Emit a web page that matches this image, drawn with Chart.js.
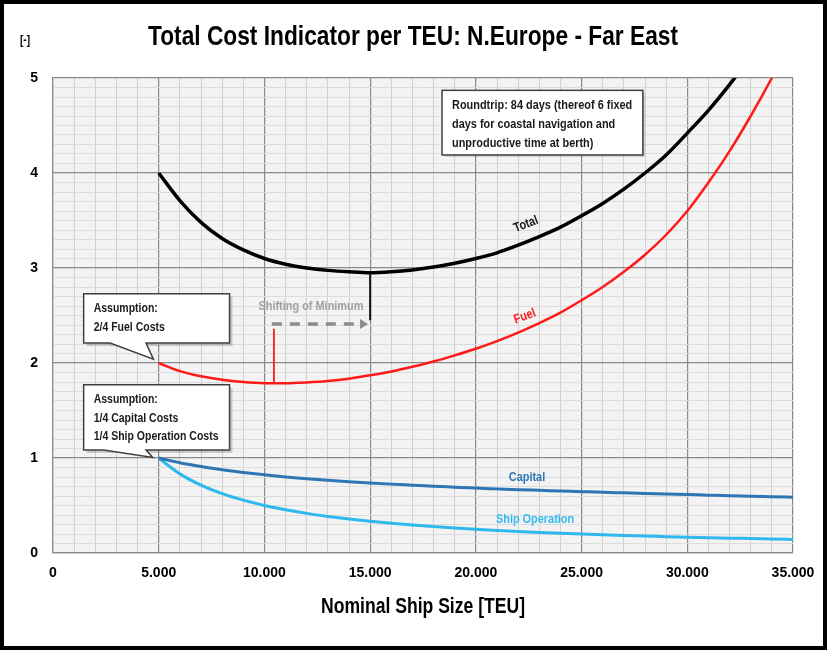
<!DOCTYPE html>
<html>
<head>
<meta charset="utf-8">
<script src="https://cdn.jsdelivr.net/npm/chart.js@4.4.1/dist/chart.umd.min.js"></script>
<style>
  html, body { margin: 0; padding: 0; background: #fff; }
  #wrap { width: 827px; height: 650px; position: relative; }
</style>
</head>
<body>
<div id="wrap"><canvas id="costChart" width="827" height="650"></canvas></div>
<script>
// ship sizes in TEU
var sizes = [5000, 6000, 7000, 8000, 9000, 10000, 11000, 12000, 13000, 14000, 15000,
  16000, 17000, 18000, 19000, 20000, 21000, 22000, 23000, 24000, 25000,
  26000, 27000, 28000, 29000, 30000, 31000, 32000, 33000, 34000, 35000];

var totalCost = [4.00, 3.71, 3.48, 3.31, 3.19, 3.10, 3.04, 3.00, 2.975, 2.96, 2.95,
  2.96, 2.98, 3.01, 3.05, 3.10, 3.16, 3.24, 3.33, 3.43, 3.55,
  3.68, 3.83, 4.00, 4.19, 4.42, 4.66, 4.93, 5.23, null, null];

var fuelCost = [2.00, 1.915, 1.86, 1.823, 1.80, 1.788, 1.787, 1.795, 1.81, 1.835, 1.87,
  1.91, 1.96, 2.015, 2.08, 2.15, 2.23, 2.32, 2.42, 2.53, 2.66,
  2.80, 2.96, 3.14, 3.35, 3.60, 3.90, 4.23, 4.60, 5.00, 5.43];

var capitalCost = [1.00, 0.95, 0.91, 0.877, 0.848, 0.823, 0.801, 0.782, 0.765, 0.75, 0.737,
  0.725, 0.714, 0.703, 0.693, 0.683, 0.675, 0.667, 0.66, 0.653, 0.646,
  0.639, 0.633, 0.627, 0.621, 0.615, 0.609, 0.603, 0.598, 0.592, 0.587];

var shipOpCost = [1.00, 0.833, 0.714, 0.625, 0.556, 0.50, 0.455, 0.417, 0.385, 0.357, 0.333,
  0.313, 0.294, 0.278, 0.263, 0.25, 0.238, 0.227, 0.217, 0.208, 0.20,
  0.192, 0.185, 0.179, 0.172, 0.167, 0.161, 0.156, 0.152, 0.147, 0.143];

var xTickLabels = ['0', '5.000', '10.000', '15.000', '20.000', '25.000', '30.000', '35.000'];

var chartTitle = 'Total Cost Indicator per TEU: N.Europe - Far East';
var yUnit = '[-]';
var xTitle = 'Nominal Ship Size [TEU]';
var noteText = ['Roundtrip: 84 days (thereof 6 fixed', 'days for coastal navigation and', 'unproductive time at berth)'];
var fuelNote = ['Assumption:', '2/4 Fuel Costs'];
var capNote = ['Assumption:', '1/4 Capital Costs', '1/4 Ship Operation Costs'];

var SANS = "'Liberation Sans', Arial, sans-serif";
var SQUEEZE = 0.84; // arial is wider than the calibri look of the original

function series(values) {
  return sizes.map(function(s, i) { return { x: s, y: values[i] }; });
}

function isMajorX(v) { return Math.abs(v % 5000) < 1e-6; }
function isMajorY(v) { return Math.abs(v - Math.round(v)) < 1e-6; }

// bold text, squeezed horizontally; if width is given the text is fitted to it
function txt(ctx, text, x, y, size, color, align, width, angle) {
  ctx.save();
  ctx.font = 'bold ' + size + 'px ' + SANS;
  var sx = SQUEEZE;
  if (width) sx = width / ctx.measureText(text).width;
  ctx.translate(x, y);
  if (angle) ctx.rotate(angle * Math.PI / 180);
  ctx.scale(sx, 1);
  ctx.fillStyle = color;
  ctx.textAlign = align || 'left';
  ctx.textBaseline = 'middle';
  ctx.fillText(text, 0, 0);
  ctx.restore();
}

var chromePlugin = {
  id: 'chrome',
  beforeDraw: function(chart) {
    var ctx = chart.ctx, a = chart.chartArea;
    ctx.save();
    ctx.fillStyle = '#fff';
    ctx.fillRect(0, 0, chart.width, chart.height);
    ctx.fillStyle = '#f3f3f3';
    ctx.fillRect(a.left, a.top, a.right - a.left, a.bottom - a.top);
    ctx.restore();
  },
  afterDraw: function(chart) {
    var ctx = chart.ctx, a = chart.chartArea;
    ctx.save();
    ctx.strokeStyle = '#000';
    ctx.lineWidth = 4;
    ctx.strokeRect(2, 2, chart.width - 4, chart.height - 4);
    ctx.restore();
    txt(ctx, chartTitle, 413, 37, 28, '#000', 'center', 530);
    txt(ctx, yUnit, 25, 41, 12, '#000', 'center');
    txt(ctx, xTitle, (a.left + a.right) / 2, 607, 22, '#000', 'center', 204);
  }
};

function callout(ctx, px, py, box, tail, lines, lineGap) {
  var x1 = px(box[0]), y1 = py(box[1]), x2 = px(box[2]), y2 = py(box[3]);
  var ta = px(tail[0]), tb = px(tail[1]), tx = px(tail[2]), ty = py(tail[3]);
  ctx.save();
  ctx.fillStyle = 'rgba(0,0,0,0.18)';
  ctx.fillRect(x1 + 3, y1 + 3, x2 - x1, y2 - y1);
  ctx.beginPath();
  ctx.moveTo(x1, y1);
  ctx.lineTo(x2, y1);
  ctx.lineTo(x2, y2);
  ctx.lineTo(tb, y2);
  ctx.lineTo(tx, ty);
  ctx.lineTo(ta, y2);
  ctx.lineTo(x1, y2);
  ctx.closePath();
  ctx.fillStyle = '#fff';
  ctx.fill();
  ctx.strokeStyle = '#404040';
  ctx.lineWidth = 1.5;
  ctx.stroke();
  ctx.restore();
  lines.forEach(function(t, i) {
    txt(ctx, t, x1 + 10, y1 + 15 + i * lineGap, 12.5, '#1a1a1a', 'left');
  });
}

var notesPlugin = {
  id: 'notes',
  afterDatasetsDraw: function(chart) {
    var ctx = chart.ctx;
    var xs = chart.scales.x, ys = chart.scales.y;
    var px = function(v) { return xs.getPixelForValue(v); };
    var py = function(v) { return ys.getPixelForValue(v); };

    // minimum markers
    ctx.save();
    ctx.strokeStyle = '#111';
    ctx.lineWidth = 2;
    ctx.beginPath();
    ctx.moveTo(px(15000), py(2.95));
    ctx.lineTo(px(15000), py(2.45));
    ctx.stroke();
    ctx.strokeStyle = '#ff1a1a';
    ctx.lineWidth = 1.8;
    ctx.beginPath();
    ctx.moveTo(px(10450), py(1.787));
    ctx.lineTo(px(10450), py(2.36));
    ctx.stroke();
    // dashed shift arrow
    ctx.strokeStyle = '#8c8c8c';
    ctx.fillStyle = '#8c8c8c';
    ctx.lineWidth = 3.5;
    ctx.setLineDash([10, 8]);
    ctx.beginPath();
    ctx.moveTo(px(10350), py(2.41));
    ctx.lineTo(px(14500), py(2.41));
    ctx.stroke();
    ctx.setLineDash([]);
    var ax = px(14900), ay = py(2.41);
    ctx.beginPath();
    ctx.moveTo(ax, ay);
    ctx.lineTo(ax - 8, ay - 5);
    ctx.lineTo(ax - 8, ay + 5);
    ctx.closePath();
    ctx.fill();
    ctx.restore();
    txt(ctx, 'Shifting of Minimum', px(12200), py(2.59), 12.5, '#a0a0a0', 'center', 105);

    // roundtrip note
    var bx1 = px(18400), by1 = py(4.87), bx2 = px(27900), by2 = py(4.19);
    ctx.save();
    ctx.fillStyle = 'rgba(0,0,0,0.15)';
    ctx.fillRect(bx1 + 2, by1 + 2, bx2 - bx1, by2 - by1);
    ctx.fillStyle = '#fff';
    ctx.fillRect(bx1, by1, bx2 - bx1, by2 - by1);
    ctx.strokeStyle = '#404040';
    ctx.lineWidth = 1.5;
    ctx.strokeRect(bx1, by1, bx2 - bx1, by2 - by1);
    ctx.restore();
    noteText.forEach(function(t, i) {
      txt(ctx, t, bx1 + 10, by1 + 15 + i * 19, 13, '#1a1a1a', 'left');
    });

    callout(ctx, px, py, [1450, 2.73, 8350, 2.21], [2700, 4400, 4750, 2.04], fuelNote, 19);
    callout(ctx, px, py, [1450, 1.77, 8350, 1.085], [2400, 4400, 4720, 1.005], capNote, 18.5);

    txt(ctx, 'Total', px(22370), py(3.46), 13, '#1a1a1a', 'center', 0, -21);
    txt(ctx, 'Fuel', px(22320), py(2.49), 13, '#ff1a1a', 'center', 0, -20);
    txt(ctx, 'Capital', px(22420), py(0.80), 13, '#2e75b6', 'center');
    txt(ctx, 'Ship Operation', px(22800), py(0.35), 13, '#33bbee', 'center');
  }
};

var ctx = document.getElementById('costChart');
var costChart = new Chart(ctx, {
  type: 'line',
  data: {
    datasets: [
      { label: 'Total', data: series(totalCost), borderColor: '#000', borderWidth: 3.5 },
      { label: 'Fuel', data: series(fuelCost), borderColor: '#ff1a1a', borderWidth: 2.5 },
      { label: 'Capital', data: series(capitalCost), borderColor: '#2e75b6', borderWidth: 3 },
      { label: 'Ship Operation', data: series(shipOpCost), borderColor: '#2fb8ee', borderWidth: 3 }
    ]
  },
  options: {
    responsive: false,
    animation: false,
    cubicInterpolationMode: 'monotone',
    spanGaps: false,
    elements: { point: { radius: 0 } },
    layout: { padding: { top: 78, right: 34, left: 0, bottom: 0 } },
    plugins: {
      legend: { display: false },
      title: { display: false },
      tooltip: { enabled: false }
    },
    scales: {
      x: {
        type: 'linear',
        min: 0,
        max: 35000,
        afterFit: function(scale) { scale.height = 97; },
        ticks: {
          stepSize: 1000,
          autoSkip: false,
          maxRotation: 0,
          padding: 12,
          color: '#000',
          font: { family: SANS, size: 14, weight: 'bold' },
          callback: function(v) { return isMajorX(v) ? xTickLabels[Math.round(v / 5000)] : ''; }
        },
        grid: {
          drawTicks: false,
          color: function(c) { return isMajorX(c.tick.value) ? '#8a8a8a' : '#d0d0d0'; },
          lineWidth: function(c) { return isMajorX(c.tick.value) ? 1.2 : 1; }
        },
        border: { color: '#8a8a8a', width: 1.2 }
      },
      y: {
        min: 0,
        max: 5,
        afterFit: function(scale) { scale.width = 53; },
        ticks: {
          stepSize: 0.1,
          autoSkip: false,
          maxTicksLimit: 200,
          padding: 15,
          color: '#000',
          font: { family: SANS, size: 14, weight: 'bold' },
          callback: function(v) { return isMajorY(v) ? String(Math.round(v)) : ''; }
        },
        grid: {
          drawTicks: false,
          color: function(c) { return isMajorY(c.tick.value) ? '#8a8a8a' : '#dcdcdc'; },
          lineWidth: function(c) { return isMajorY(c.tick.value) ? 1.2 : 1; }
        },
        border: { color: '#8a8a8a', width: 1.2 }
      }
    }
  },
  plugins: [chromePlugin, notesPlugin]
});
</script>
</body>
</html>
